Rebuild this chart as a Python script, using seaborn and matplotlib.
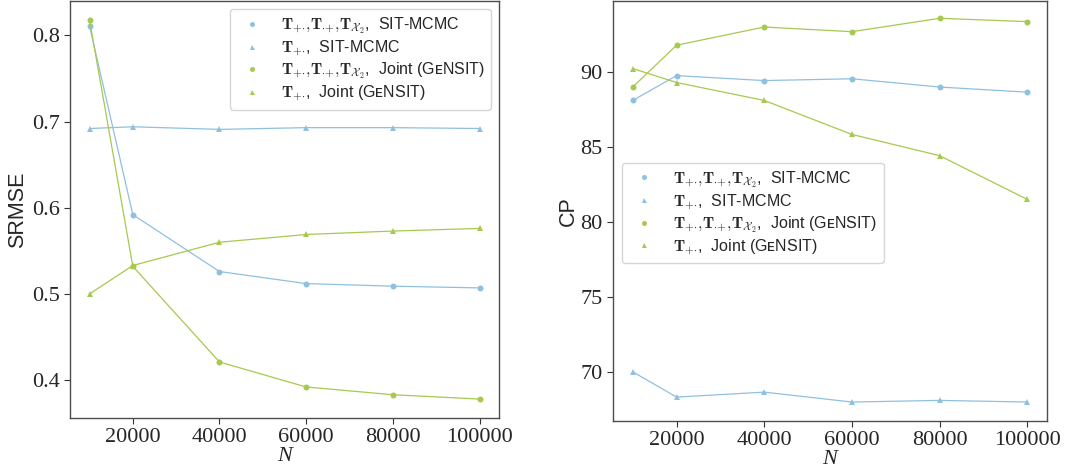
# -*- coding: utf-8 -*-
import numpy as np
import pandas as pd
import matplotlib
matplotlib.use('Agg')
import matplotlib.pyplot as plt
from matplotlib.lines import Line2D
import seaborn as sns

# %% data
N = [10000, 20000, 40000, 60000, 80000, 100000]

srmse_sit_all = [0.811, 0.592, 0.526, 0.512, 0.509, 0.507]
srmse_sit_row = [0.692, 0.694, 0.691, 0.693, 0.693, 0.692]
srmse_joint_all = [0.818, 0.532, 0.421, 0.392, 0.383, 0.378]
srmse_joint_row = [0.500, 0.533, 0.560, 0.569, 0.573, 0.576]

cp_sit_all = [88.08, 89.73, 89.40, 89.52, 88.97, 88.63]
cp_sit_row = [70.04, 68.36, 68.69, 68.03, 68.14, 68.03]
cp_joint_all = [88.97, 91.75, 92.96, 92.65, 93.54, 93.32]
cp_joint_row = [90.20, 89.27, 88.08, 85.82, 84.41, 81.50]

t_all = r'$\mathbf{T}_{{+}{\cdot}}{,}\mathbf{T}_{{\cdot}{+}}{,}\mathbf{T}_{\mathcal{X}_2}$,  '
t_row = r'$\mathbf{T}_{{+}{\cdot}}$,  '
labels = [t_all + 'SIT-MCMC',
          t_row + 'SIT-MCMC',
          t_all + 'Joint (G\u1d07NSIT)',
          t_row + 'Joint (G\u1d07NSIT)']

blue = '#8fc0e0'
green = '#a6c94f'
colors = [blue, blue, green, green]
markers = ['o', '^', 'o', '^']


def long_df(series):
    rows = []
    for lab, vals in zip(labels, series):
        for n, v in zip(N, vals):
            rows.append({'N': n, 'value': v, 'series': lab})
    return pd.DataFrame(rows)


df_srmse = long_df([srmse_sit_all, srmse_sit_row, srmse_joint_all, srmse_joint_row])
df_cp = long_df([cp_sit_all, cp_sit_row, cp_joint_all, cp_joint_row])

# %% style
sns.set_style('ticks')
plt.rcParams['mathtext.fontset'] = 'cm'
plt.rcParams['font.family'] = ['Liberation Sans', 'DejaVu Sans']

fig = plt.figure(figsize=(10.68, 4.69), dpi=100)
ax1 = fig.add_axes([70 / 1068, 1 - 418 / 469, 429 / 1068, 417 / 469])
ax2 = fig.add_axes([613 / 1068, 1 - 421 / 469, 434 / 1068, 420 / 469])

for ax, df, ylab, pad in [(ax1, df_srmse, 'SRMSE', 2.5), (ax2, df_cp, 'CP', 1)]:
    sns.lineplot(data=df, x='N', y='value', hue='series', style='series',
                 palette=colors, markers=markers, dashes=False,
                 markersize=4.3, markeredgewidth=0, linewidth=0.9,
                 legend=False, ax=ax)
    ax.set_xticks([20000, 40000, 60000, 80000, 100000])
    ax.set_xlim(5500, 104500)
    ax.tick_params(axis='both', length=4, width=0.8, color='0.2',
                   labelsize=16, labelfontfamily='Liberation Serif')
    ax.set_xlabel('N', fontfamily='Liberation Serif', fontstyle='italic', fontsize=16, labelpad=0)
    ax.set_ylabel(ylab, fontsize=15.5, labelpad=pad)
    for sp in ax.spines.values():
        sp.set_color('0.3')
        sp.set_linewidth(1.0)

ax1.set_yticks([0.4, 0.5, 0.6, 0.7, 0.8])
ax1.set_ylim(0.356, 0.840)
ax2.set_yticks([70, 75, 80, 85, 90])
ax2.set_ylim(66.77, 94.69)

handles = [Line2D([], [], color=c, marker=m, linestyle='', markersize=3.6, markeredgewidth=0)
           for c, m in zip(colors, markers)]
leg_prop = {'family': ['Liberation Sans', 'DejaVu Sans'], 'size': 11.5}
ax1.legend(handles, labels, loc='upper right', prop=leg_prop, labelspacing=0.15)
ax2.legend(handles, labels, loc='upper left', bbox_to_anchor=(0.021, 0.615),
           borderaxespad=0, prop=leg_prop, labelspacing=0.15)

plt.savefig('out.png', dpi=100)
